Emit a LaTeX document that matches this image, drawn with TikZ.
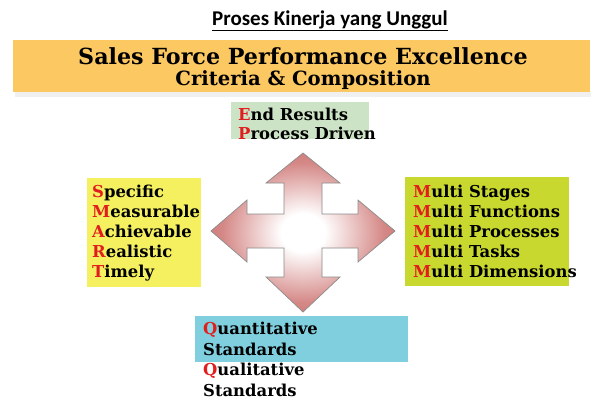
\documentclass[tikz,border=0pt]{standalone}
\usepackage{fontspec}
\setmainfont{DejaVu Serif}
\newfontfamily\headfont{Carlito}
\usepackage{tikz}
\usetikzlibrary{positioning,calc}

\definecolor{bannerorange}{RGB}{252,200,98}
\definecolor{resultgreen}{RGB}{204,228,197}
\definecolor{smartyellow}{RGB}{244,240,96}
\definecolor{multiolive}{RGB}{200,216,46}
\definecolor{qualblue}{RGB}{128,207,223}
\definecolor{initred}{RGB}{225,30,30}
\definecolor{crossred}{RGB}{192,80,77}

\newcommand{\ini}[1]{\textcolor{initred}{#1}}
\pgfdeclareradialshading{crossfade}{\pgfpoint{0bp}{0bp}}{color(0bp)=(white); color(6bp)=(white); color(22bp)=(crossred!68); color(42bp)=(crossred); color(50bp)=(crossred)}

\begin{document}
\begin{tikzpicture}[x=1pt, y=-1pt,
  panel/.style={fill=#1, anchor=north west, inner sep=0pt},
  words/.style={font=\bfseries\fontsize{16.4}{20}\selectfont, align=left, anchor=north west, inner sep=0pt},
]
\fill[white] (0,0) rectangle (603,408);
\useasboundingbox (0,0) rectangle (603,408);
% heading and banner
\node[font=\headfont\bfseries\fontsize{21}{25}\selectfont] (title) at (330,21) {\underline{Proses Kinerja yang Unggul}};
\fill[black!6] (15,92) rectangle (591,97);
\node[panel=bannerorange, minimum width=577pt, minimum height=52pt] (banner) at (13,40) {};
\node[font=\bfseries\fontsize{22.2}{24}\selectfont, anchor=base, inner sep=0pt] (headline) at (303,64) {Sales Force Performance Excellence};
\node[font=\bfseries\fontsize{19.6}{22}\selectfont, anchor=base, inner sep=0pt] (subline) at (303,85) {Criteria \& Composition};
% four criteria panels
\node[panel=resultgreen, minimum width=138pt, minimum height=37pt] (results) at (231,102) {};
\node[words, font=\bfseries\fontsize{16.4}{19}\selectfont] (resultstext) at ($(results.north west)+(7,6)$) {\ini{E}nd Results\\\ini{P}rocess Driven};
\node[panel=smartyellow, minimum width=114pt, minimum height=109pt] (smart) at (87,178) {};
\node[words] (smarttext) at ($(smart.north west)+(5,7)$) {\ini{S}pecific\\\ini{M}easurable\\\ini{A}chievable\\\ini{R}ealistic\\\ini{T}imely};
\node[panel=multiolive, minimum width=164pt, minimum height=109pt] (multi) at (405,177) {};
\node[words] (multitext) at ($(multi.north west)+(8,8)$) {\ini{M}ulti Stages\\\ini{M}ulti Functions\\\ini{M}ulti Processes\\\ini{M}ulti Tasks\\\ini{M}ulti Dimensions};
\node[panel=qualblue, minimum width=213pt, minimum height=46pt] (quality) at (195,316) {};
\node[words, font=\bfseries\fontsize{16.4}{20.5}\selectfont] (qualitytext) at ($(quality.north west)+(8,6)$) {\ini{Q}uantitative\\Standards\\\ini{Q}ualitative\\Standards};
% four-way arrow
\shadedraw[shading=crossfade, draw=black!45, line width=0.7pt]
  (303,153) -- (340,183) -- (322,183) -- (322,214) -- (358,214) -- (358,200) -- (395,231)
  -- (358,262) -- (358,248) -- (322,248) -- (322,277) -- (340,277) -- (303,312)
  -- (266,277) -- (284,277) -- (284,248) -- (247,248) -- (247,262) -- (211,231)
  -- (247,200) -- (247,214) -- (284,214) -- (284,183) -- (266,183) -- cycle;
\end{tikzpicture}
\end{document}
